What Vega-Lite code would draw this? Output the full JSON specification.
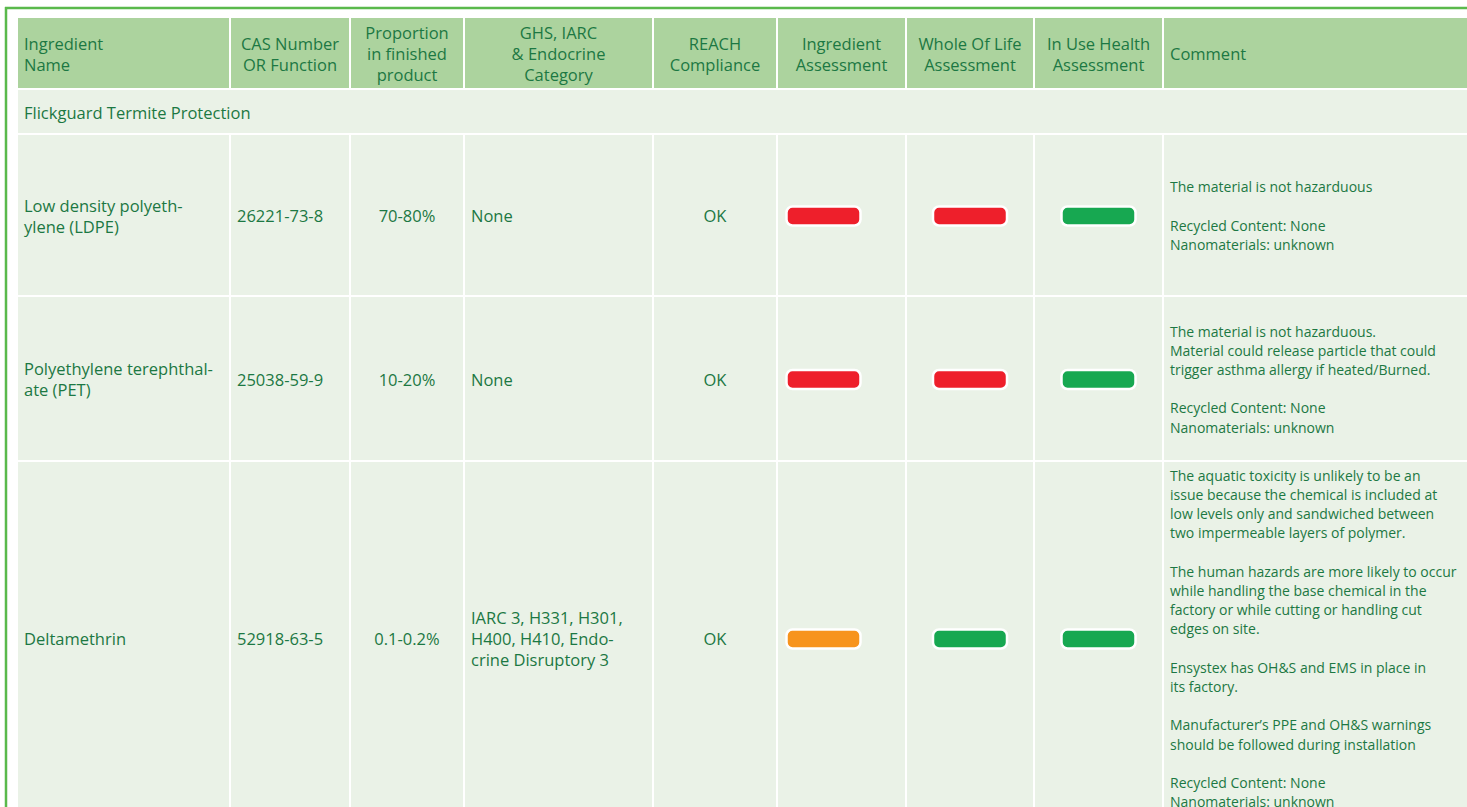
{
  "$schema": "https://vega.github.io/schema/vega-lite/v6.json",
  "width": 1467,
  "height": 807,
  "autosize": {"type": "none"},
  "padding": 0,
  "background": "#ffffff",
  "config": {"view": {"stroke": null}, "text": {"font": "Open Sans", "color": "#1c7843"}},
  "datasets": {
    "columns": [
      {"col": "name", "x0": 18, "x1": 229},
      {"col": "cas", "x0": 231, "x1": 349},
      {"col": "prop", "x0": 351, "x1": 463},
      {"col": "ghs", "x0": 465, "x1": 652},
      {"col": "reach", "x0": 654, "x1": 776},
      {"col": "ing", "x0": 778, "x1": 905},
      {"col": "wol", "x0": 907, "x1": 1033},
      {"col": "inuse", "x0": 1035, "x1": 1162},
      {"col": "comment", "x0": 1164, "x1": 1467},
      {"col": "all", "x0": 18, "x1": 1467}
    ],
    "rows": [
      {"row": "header", "y0": 18, "y1": 88},
      {"row": "section", "y0": 90, "y1": 133},
      {"row": "r1", "y0": 135, "y1": 295},
      {"row": "r2", "y0": 297, "y1": 460},
      {"row": "r3", "y0": 462, "y1": 814}
    ],
    "cells": [
      {"row": "header", "col": "name", "text": ["Ingredient", "Name"]},
      {"row": "header", "col": "cas", "text": ["CAS Number", "OR Function"]},
      {"row": "header", "col": "prop", "text": ["Proportion", "in finished", "product"]},
      {"row": "header", "col": "ghs", "text": ["GHS, IARC", "& Endocrine", "Category"]},
      {"row": "header", "col": "reach", "text": ["REACH", "Compliance"]},
      {"row": "header", "col": "ing", "text": ["Ingredient", "Assessment"]},
      {"row": "header", "col": "wol", "text": ["Whole Of Life", "Assessment"]},
      {"row": "header", "col": "inuse", "text": ["In Use Health", "Assessment"]},
      {"row": "header", "col": "comment", "text": ["Comment"]},
      {"row": "section", "col": "all", "text": ["Flickguard Termite Protection"]},
      {"row": "r1", "col": "name", "text": ["Low density polyeth-", "ylene (LDPE)"]},
      {"row": "r1", "col": "cas", "text": ["26221-73-8"]},
      {"row": "r1", "col": "prop", "text": ["70-80%"]},
      {"row": "r1", "col": "ghs", "text": ["None"]},
      {"row": "r1", "col": "reach", "text": ["OK"]},
      {"row": "r1", "col": "ing", "text": [""]},
      {"row": "r1", "col": "wol", "text": [""]},
      {"row": "r1", "col": "inuse", "text": [""]},
      {"row": "r1", "col": "comment", "text": ["The material is not hazarduous", "\u200b", "Recycled Content: None", "Nanomaterials: unknown"]},
      {"row": "r2", "col": "name", "text": ["Polyethylene terephthal-", "ate (PET)"]},
      {"row": "r2", "col": "cas", "text": ["25038-59-9"]},
      {"row": "r2", "col": "prop", "text": ["10-20%"]},
      {"row": "r2", "col": "ghs", "text": ["None"]},
      {"row": "r2", "col": "reach", "text": ["OK"]},
      {"row": "r2", "col": "ing", "text": [""]},
      {"row": "r2", "col": "wol", "text": [""]},
      {"row": "r2", "col": "inuse", "text": [""]},
      {"row": "r2", "col": "comment", "text": ["The material is not hazarduous.", "Material could release particle that could", "trigger asthma allergy if heated/Burned.", "\u200b", "Recycled Content: None", "Nanomaterials: unknown"]},
      {"row": "r3", "col": "name", "text": ["Deltamethrin"]},
      {"row": "r3", "col": "cas", "text": ["52918-63-5"]},
      {"row": "r3", "col": "prop", "text": ["0.1-0.2%"]},
      {"row": "r3", "col": "ghs", "text": ["IARC 3, H331, H301,", "H400, H410, Endo-", "crine Disruptory 3"]},
      {"row": "r3", "col": "reach", "text": ["OK"]},
      {"row": "r3", "col": "ing", "text": [""]},
      {"row": "r3", "col": "wol", "text": [""]},
      {"row": "r3", "col": "inuse", "text": [""]},
      {"row": "r3", "col": "comment", "text": ["The aquatic toxicity is unlikely to be an", "issue because the chemical is included at", "low levels only and sandwiched between", "two impermeable layers of polymer.", "\u200b", "The human hazards are more likely to occur", "while handling the base chemical in the", "factory or while cutting or handling cut", "edges on site.", "\u200b", "Ensystex has OH&S and EMS in place in", "its factory.", "\u200b", "Manufacturer\u2019s PPE and OH&S warnings", "should be followed during installation", "\u200b", "Recycled Content: None", "Nanomaterials: unknown"]}
    ],
    "ratings": [
      {"row": "r1", "col": "ing", "rating": "Red"},
      {"row": "r1", "col": "wol", "rating": "Red"},
      {"row": "r1", "col": "inuse", "rating": "Green"},
      {"row": "r2", "col": "ing", "rating": "Red"},
      {"row": "r2", "col": "wol", "rating": "Red"},
      {"row": "r2", "col": "inuse", "rating": "Green"},
      {"row": "r3", "col": "ing", "rating": "Amber"},
      {"row": "r3", "col": "wol", "rating": "Green"},
      {"row": "r3", "col": "inuse", "rating": "Green"}
    ]
  },
  "layer": [
    {
      "data": {"name": "cells"},
      "transform": [
        {"lookup": "col", "from": {"data": {"name": "columns"}, "key": "col", "fields": ["x0", "x1"]}},
        {"lookup": "row", "from": {"data": {"name": "rows"}, "key": "row", "fields": ["y0", "y1"]}}
      ],
      "mark": {"type": "rect"},
      "encoding": {
        "x": {"field": "x0", "type": "quantitative", "scale": {"domain": [0, 1467], "nice": false, "zero": false}, "axis": null},
        "x2": {"field": "x1"},
        "y": {"field": "y0", "type": "quantitative", "scale": {"domain": [0, 807], "nice": false, "zero": false, "reverse": true}, "axis": null},
        "y2": {"field": "y1"},
        "fill": {"condition": {"test": "datum.row === 'header'", "value": "#acd39e"}, "value": "#eaf2e7"}
      }
    },
    {
      "data": {"name": "cells"},
      "transform": [
        {"filter": "(datum.row === 'header' && (datum.col === 'name' || datum.col === 'comment')) || (datum.row !== 'header' && indexof(['name','cas','ghs','all'], datum.col) >= 0)"},
        {"lookup": "col", "from": {"data": {"name": "columns"}, "key": "col", "fields": ["x0", "x1"]}},
        {"lookup": "row", "from": {"data": {"name": "rows"}, "key": "row", "fields": ["y0", "y1"]}},
        {"calculate": "(datum.y0 + datum.y1) / 2 - (length(datum.text) - 1) * 21 / 2", "as": "ym"}
      ],
      "mark": {"type": "text", "align": "left", "baseline": "middle", "dx": 6, "dy": 2, "fontSize": 16.5, "lineHeight": 21},
      "encoding": {
        "x": {"field": "x0", "type": "quantitative"},
        "y": {"field": "ym", "type": "quantitative"},
        "text": {"field": "text"}
      }
    },
    {
      "data": {"name": "cells"},
      "transform": [
        {"filter": "(datum.row === 'header' && datum.col !== 'name' && datum.col !== 'comment') || (datum.row !== 'header' && (datum.col === 'prop' || datum.col === 'reach'))"},
        {"lookup": "col", "from": {"data": {"name": "columns"}, "key": "col", "fields": ["x0", "x1"]}},
        {"lookup": "row", "from": {"data": {"name": "rows"}, "key": "row", "fields": ["y0", "y1"]}},
        {"calculate": "(datum.y0 + datum.y1) / 2 - (length(datum.text) - 1) * 21 / 2", "as": "ym"},
        {"calculate": "(datum.x0 + datum.x1) / 2", "as": "xm"}
      ],
      "mark": {"type": "text", "align": "center", "baseline": "middle", "dy": 2, "fontSize": 16.5, "lineHeight": 21},
      "encoding": {
        "x": {"field": "xm", "type": "quantitative"},
        "y": {"field": "ym", "type": "quantitative"},
        "text": {"field": "text"}
      }
    },
    {
      "data": {"name": "cells"},
      "transform": [
        {"filter": "datum.row !== 'header' && datum.col === 'comment'"},
        {"lookup": "col", "from": {"data": {"name": "columns"}, "key": "col", "fields": ["x0", "x1"]}},
        {"lookup": "row", "from": {"data": {"name": "rows"}, "key": "row", "fields": ["y0", "y1"]}},
        {"calculate": "(datum.y0 + datum.y1) / 2 - (length(datum.text) - 1) * 19.2 / 2", "as": "ym"}
      ],
      "mark": {"type": "text", "align": "left", "baseline": "middle", "dx": 6, "dy": 2, "fontSize": 14, "lineHeight": 19.2},
      "encoding": {
        "x": {"field": "x0", "type": "quantitative"},
        "y": {"field": "ym", "type": "quantitative"},
        "text": {"field": "text"}
      }
    },
    {
      "data": {"name": "ratings"},
      "transform": [
        {"lookup": "col", "from": {"data": {"name": "columns"}, "key": "col", "fields": ["x0", "x1"]}},
        {"lookup": "row", "from": {"data": {"name": "rows"}, "key": "row", "fields": ["y0", "y1"]}},
        {"calculate": "(datum.y0 + datum.y1) / 2 + 1", "as": "ym"},
        {"calculate": "(datum.x0 + datum.x1) / 2 - (datum.col === 'ing' ? 18 : 0)", "as": "xm"}
      ],
      "mark": {"type": "rect", "width": 74, "height": 19, "cornerRadius": 6, "stroke": "#ffffff", "strokeWidth": 2.5},
      "encoding": {
        "x": {"field": "xm", "type": "quantitative"},
        "y": {"field": "ym", "type": "quantitative"},
        "fill": {"field": "rating", "type": "nominal", "scale": {"domain": ["Red", "Amber", "Green"], "range": ["#ee1f2b", "#f7941d", "#17a851"]}, "legend": null}
      }
    },
    {
      "data": {"values": [{}]},
      "mark": {"type": "rule", "color": "#5ab94c", "strokeWidth": 2.5},
      "encoding": {
        "x": {"datum": 5, "type": "quantitative"},
        "x2": {"datum": 1467},
        "y": {"datum": 8, "type": "quantitative"}
      }
    },
    {
      "data": {"values": [{}]},
      "mark": {"type": "rule", "color": "#5ab94c", "strokeWidth": 2.5},
      "encoding": {
        "x": {"datum": 6, "type": "quantitative"},
        "y": {"datum": 7, "type": "quantitative"},
        "y2": {"datum": 807}
      }
    }
  ]
}
